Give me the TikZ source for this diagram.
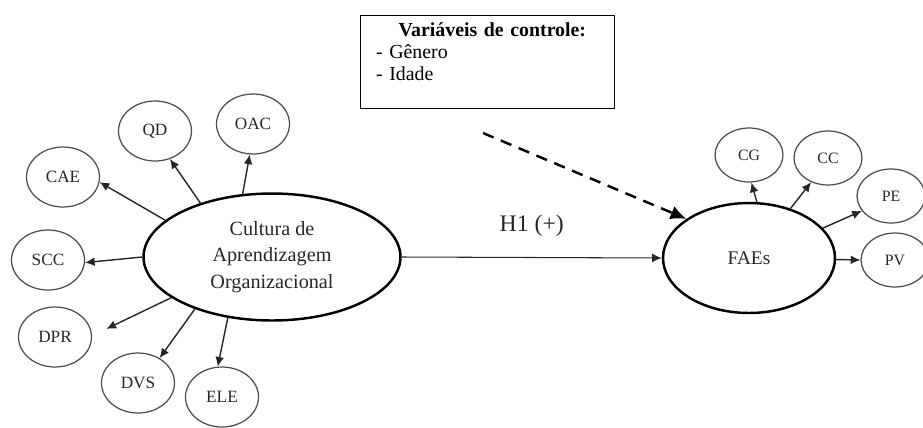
\documentclass[tikz,border=0pt]{standalone}
\usepackage{fontspec}
\setmainfont{Liberation Serif}
\usetikzlibrary{shapes.geometric,arrows.meta}
\tikzset{
  bigvar/.style={ellipse,draw,line width=1.4pt,align=center,inner sep=0pt,
    font=\fontsize{11.5}{15}\selectfont,text=black!85},
  smallvar/.style={ellipse,draw=black!70,line width=0.7pt,inner sep=0pt,
    minimum width=1.46cm,minimum height=1.2cm,font=\fontsize{9.8}{11}\selectfont,text=black!85},
  smallfae/.style={smallvar,minimum width=1.36cm,minimum height=1.08cm,font=\fontsize{9}{10}\selectfont},
  arr/.style={-{Latex[length=5.5pt,width=5pt]},line width=0.8pt,black!85},
  dasharr/.style={-{Latex[length=9pt,width=8pt]},line width=1.4pt,dash pattern=on 6.5pt off 4.5pt},
  ctrlbox/.style={draw,line width=0.7pt,anchor=north west,text width=4.46cm,
    inner xsep=0.31cm,inner ysep=4pt,align=left,font=\fontsize{11.3}{12.5}\selectfont}
}
\begin{document}
\begin{tikzpicture}[x=0.02cm,y=-0.02cm]
  \useasboundingbox (0,0) rectangle (923,427);
  \draw
    (272,257) node[bigvar,minimum width=5.14cm,minimum height=2.54cm] (cult)
      {Cultura de\\Aprendizagem\\Organizacional}
    (749,258) node[bigvar,minimum width=3.44cm,minimum height=2.2cm,
      font=\fontsize{11}{13}\selectfont] (faes) {FAEs}
    (155,131) node[smallvar] (qd) {QD}
    (253,124) node[smallvar] (oac) {OAC}
    (63,177) node[smallvar] (cae) {CAE}
    (48,260) node[smallvar] (scc) {SCC}
    (55,337) node[smallvar] (dpr) {DPR}
    (138,383) node[smallvar] (dvs) {DVS}
    (222,397) node[smallvar] (ele) {ELE}
    (749,155) node[smallfae] (cg) {CG}
    (828,158) node[smallfae] (cc) {CC}
    (891,196) node[smallfae] (pe) {PE}
    (895,260) node[smallfae] (pv) {PV};
  \node[ctrlbox] (ctrl) at (360,15)
    {\hspace*{0.45cm}\textbf{Variáveis de controle:}\\- Gênero\\- Idade\par\kern12pt};
  \coordinate (dstart) at (483,133);
  \begin{scope}[arr]
    \draw (cult.161) to (cae.352);
    \draw (cult.143) to (qd.298);
    \draw (cult.115) to (oac.264);
    \draw (cult.180) to (scc.356);
    \draw[shorten >=9pt] (cult.202) to (dpr.2);
    \draw (cult.214) to (dvs.49);
    \draw (cult.234) to (ele.98);
    \draw (faes.82) to (cg.275);
    \draw (faes.50) to (cc.235);
    \draw (faes.22) to (pe.207);
    \draw (faes.359) to (pv.180);
    \draw[line width=0.6pt] (cult.east) to
      node[midway,above=0.3cm,font=\fontsize{13.5}{15}\selectfont] (h1) {H1 (+)} (faes.west);
  \end{scope}
  \draw[dasharr] (dstart) -- (faes.148);
\end{tikzpicture}
\end{document}
